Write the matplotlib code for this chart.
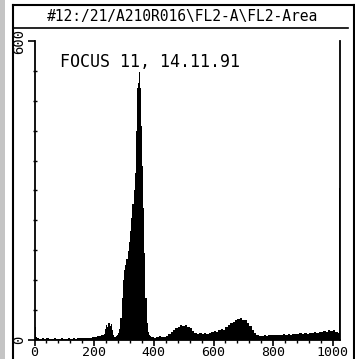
import numpy as np
import matplotlib.pyplot as plt
from matplotlib.lines import Line2D
from matplotlib.patches import Rectangle
from matplotlib.ticker import MultipleLocator, FixedLocator

title = "#12:/21/A210R016\\FL2-A\\FL2-Area"
note = "FOCUS 11, 14.11.91"
x_ticks = [0, 200, 400, 600, 800, 1000]
y_ticks = [0, 600]

# FL2-Area histogram, counts (bins get finer around the G1 peak)
counts_0_8 = [26, 6]                      # 4-channel bins
counts_8_232 = [4, 3, 5, 3, 4, 3, 3, 4, 3, 3, 4, 3, 3, 4, 3, 4, 3, 4, 4, 5,
                4, 5, 5, 6, 7, 8, 9, 11]  # 8-channel bins
counts_232_340 = [12, 22, 30, 26, 34, 28, 32, 20, 10, 7, 8, 10, 14, 22, 45, 85,
                  120, 140, 150, 162, 178, 196, 218, 245, 272, 300, 335]  # 4-channel
counts_340_356 = [420, 470, 505, 510, 515, 538, 512, 505]  # 2-channel bins
counts_356_400 = [430, 350, 265, 175, 85, 35, 16, 10, 8, 7, 6]  # 4-channel
counts_400_1016 = [5, 6, 8, 7, 7,
                   9, 12, 16, 20, 24, 27, 30, 28, 31, 26, 24, 18,
                   14, 13, 14, 12, 14, 13, 15, 16,
                   18, 17, 20, 22, 21, 26, 30, 34, 37, 40, 42, 45, 41, 40, 34, 28,
                   20, 14, 10, 9,
                   8, 10, 9, 10, 11, 10, 10, 11, 10, 12, 11, 12, 11, 12, 13, 12,
                   14, 13, 14, 13, 15, 14, 16, 15, 17, 16, 18, 17, 20, 18, 20, 17]  # 8-channel
counts_1016_1024 = [15, 305]  # last bin is the overflow channel

edges = np.concatenate([np.arange(0, 8, 4), np.arange(8, 232, 8), np.arange(232, 340, 4),
                        np.arange(340, 356, 2), np.arange(356, 400, 4),
                        np.arange(400, 1016, 8), np.arange(1016, 1025, 4)])
counts = (counts_0_8 + counts_8_232 + counts_232_340 + counts_340_356
          + counts_356_400 + counts_400_1016 + counts_1016_1024)

mono = "DejaVu Sans Mono"

fig = plt.figure(figsize=(3.55, 3.59), dpi=100)
ax = fig.add_axes([0.0972, 0.0529, 0.8606, 0.833])

ax.stairs(counts, edges, fill=True, color="black", lw=0)

ax.set_xlim(0, 1024)
ax.set_ylim(0, 600)
ax.spines["top"].set_visible(False)
for s in ["left", "bottom", "right"]:
    ax.spines[s].set_linewidth(1.3)

ax.xaxis.set_major_locator(FixedLocator(x_ticks))
ax.xaxis.set_minor_locator(MultipleLocator(40))
ax.yaxis.set_major_locator(FixedLocator(y_ticks))
ax.yaxis.set_minor_locator(MultipleLocator(60))
ax.tick_params(axis="x", which="major", direction="out", length=4, width=1.2, pad=0)
ax.tick_params(axis="x", which="minor", direction="out", length=2.5, width=1.0)
ax.tick_params(axis="y", which="major", direction="out", length=5, width=1.2, pad=1)
ax.tick_params(axis="y", which="minor", direction="inout", length=2.5, width=1.0)
ax.set_xticklabels([str(t) for t in x_ticks], fontfamily=mono, fontsize=9.5)
ax.set_yticklabels([str(t) for t in y_ticks], fontfamily=mono, fontsize=10,
                   rotation=90, va="center")

# outer frame and title box
fig.add_artist(Rectangle((0, 0), 5 / 355, 1, transform=fig.transFigure,
                         color="#c4c4c4", lw=0))
fig.add_artist(Line2D([0.0366, 0.0366], [0, 0.986], color="black", lw=1.5))
fig.add_artist(Line2D([0.0366, 0.997], [0.986, 0.986], color="black", lw=1.5))
fig.add_artist(Line2D([0.997, 0.997], [0, 0.986], color="black", lw=1.5))
fig.add_artist(Line2D([0.0366, 0.98], [0.922, 0.922], color="black", lw=1.2))

fig.text(0.515, 0.953, title, ha="center", va="center", fontfamily=mono, fontsize=10.5)
fig.text(0.169, 0.827, note, ha="left", va="center", fontfamily=mono, fontsize=12)

fig.savefig("out.png", dpi=100)
